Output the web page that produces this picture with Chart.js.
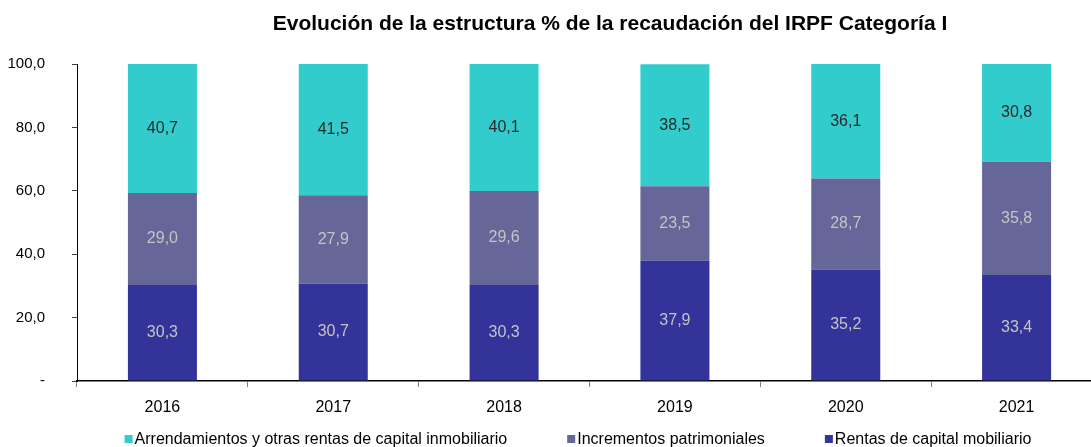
<!DOCTYPE html>
<html>
<head>
<meta charset="utf-8">
<script src="https://cdn.jsdelivr.net/npm/chart.js@4/dist/chart.umd.min.js"></script>
<style>
  html, body { margin: 0; padding: 0; background: #fff; overflow: hidden; }
  #wrap { width: 1102px; height: 447px; }
</style>
</head>
<body>
<div id="wrap"><canvas id="myChart" width="1102" height="447"></canvas></div>
<script>
const years = ['2016', '2017', '2018', '2019', '2020', '2021']
const rentasMobiliario = [30.3, 30.7, 30.3, 37.9, 35.2, 33.4]
const incrementos = [29.0, 27.9, 29.6, 23.5, 28.7, 35.8]
const arrendamientos = [40.7, 41.5, 40.1, 38.5, 36.1, 30.8]
const yTicks = [0, 20, 40, 60, 80, 100]

const FONT = '"Liberation Sans", Arial, sans-serif'
const TITLE = 'Evolución de la estructura % de la recaudación del IRPF Categoría I'

function fmt(v) {
  return v.toFixed(1).replace('.', ',')
}

// title + legend drawn by hand so they sit where Excel put them
const decorations = {
  id: 'decorations',
  afterDraw(chart) {
    const ctx = chart.ctx
    ctx.save()
    ctx.fillStyle = '#000'
    ctx.font = 'bold 21px ' + FONT
    ctx.textAlign = 'center'
    ctx.textBaseline = 'middle'
    ctx.fillText(TITLE, 610, 24)

    // legend, reversed order like the original
    ctx.font = '16px ' + FONT
    const items = chart.data.datasets.slice().reverse()
    const box = 8, gapBox = 2, gapItem = 60
    let total = 0
    items.forEach((d, i) => {
      total += box + gapBox + ctx.measureText(d.label).width
      if (i < items.length - 1) total += gapItem
    })
    let x = 578 - total / 2
    const y = 440
    ctx.textAlign = 'left'
    items.forEach(d => {
      ctx.fillStyle = d.backgroundColor
      ctx.fillRect(x, y - box / 2 - 1, box, box)
      x += box + gapBox
      ctx.fillStyle = '#000'
      ctx.fillText(d.label, x, y)
      x += ctx.measureText(d.label).width + gapItem
    })
    ctx.restore()
  }
}

// value labels in the middle of each segment
const segmentLabels = {
  id: 'segmentLabels',
  afterDatasetsDraw(chart) {
    const ctx = chart.ctx
    ctx.save()
    ctx.font = '16px ' + FONT
    ctx.textAlign = 'center'
    ctx.textBaseline = 'middle'
    chart.data.datasets.forEach((d, di) => {
      const meta = chart.getDatasetMeta(di)
      meta.data.forEach((bar, i) => {
        ctx.fillStyle = d.labelColor
        ctx.fillText(fmt(d.data[i]), bar.x, (bar.y + bar.base) / 2)
      })
    })
    ctx.restore()
  }
}

const ctx = document.getElementById('myChart').getContext('2d')
const chart = new Chart(ctx, {
  type: 'bar',
  data: {
    labels: years,
    datasets: [{
      label: 'Rentas de capital mobiliario',
      data: rentasMobiliario,
      backgroundColor: '#333399',
      labelColor: '#c4c4c4'
    }, {
      label: 'Incrementos patrimoniales',
      data: incrementos,
      backgroundColor: '#666699',
      labelColor: '#c4c4c4'
    }, {
      label: 'Arrendamientos y otras rentas de capital inmobiliario',
      data: arrendamientos,
      backgroundColor: '#33cccc',
      labelColor: '#2a2a2a'
    }]
  },
  options: {
    responsive: false,
    animation: false,
    devicePixelRatio: 1,
    categoryPercentage: 1,
    barPercentage: 0.404,
    layout: { padding: { top: 64, left: 0, right: 0, bottom: 0 } },
    plugins: {
      legend: { display: false },
      title: { display: false },
      tooltip: { enabled: false }
    },
    scales: {
      x: {
        stacked: true,
        afterFit: s => { s.height = 66 },
        grid: { drawOnChartArea: false, offset: true, tickLength: 6, color: '#808080' },
        border: { color: '#000', width: 1.5 },
        ticks: { color: '#000', padding: 11, font: { family: FONT, size: 16 } }
      },
      y: {
        stacked: true,
        min: 0,
        max: 100,
        afterFit: s => { s.width = 77 },
        afterBuildTicks: s => { s.ticks = yTicks.map(v => ({ value: v })) },
        grid: { drawOnChartArea: false, tickLength: 5, color: '#404040' },
        border: { color: '#000', width: 1 },
        ticks: {
          color: '#000',
          padding: 27,
          font: { family: FONT, size: 15 },
          callback: v => v === 0 ? '-' : fmt(v)
        }
      }
    }
  },
  plugins: [segmentLabels, decorations]
})
</script>
</body>
</html>
